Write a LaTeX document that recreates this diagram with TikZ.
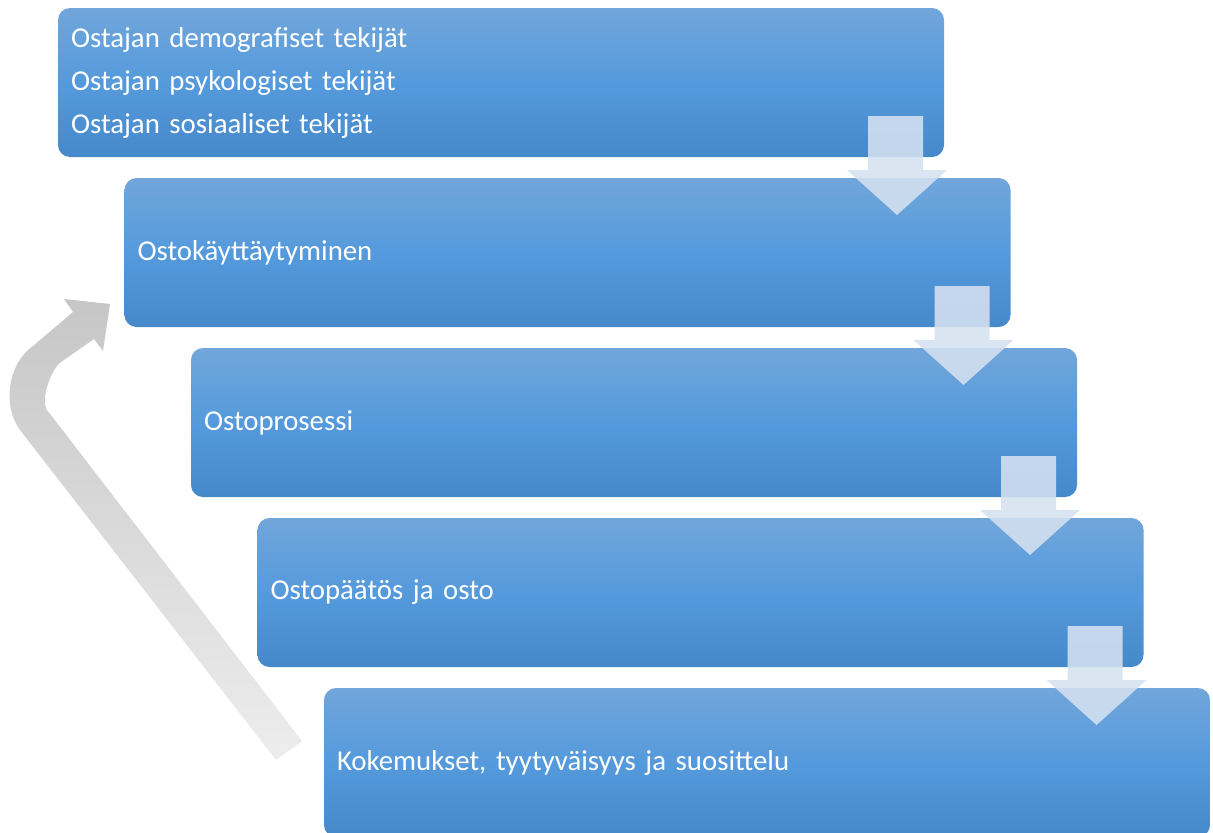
\documentclass[tikz,border=0pt]{standalone}
\usepackage{fontspec}
\setmainfont{Carlito}
\definecolor{boxtop}{RGB}{113,166,219}
\definecolor{boxmid}{RGB}{85,154,220}
\definecolor{boxbot}{RGB}{70,137,202}
\definecolor{arrowfill}{RGB}{213,225,240}
\definecolor{loopdark}{RGB}{198,198,198}
\definecolor{looplight}{RGB}{237,237,237}
\pgfdeclareverticalshading{boxshade}{100bp}{color(0bp)=(boxbot); color(25bp)=(boxbot); color(50bp)=(boxmid); color(75bp)=(boxtop); color(100bp)=(boxtop)}
\tikzset{every picture/.style={line width=0.75pt}}

\begin{document}
\begin{tikzpicture}[x=0.75pt,y=0.75pt,yscale=-1,xscale=1,
  stepbox/.style={rectangle, rounded corners=9pt, shading=boxshade, draw=none,
    minimum width=664.5pt, minimum height=111.75pt, text width=645pt, inner xsep=9.75pt,
    align=left, text=white, font=\fontsize{21.6}{32.25}\selectfont},
  downarrow/.style={fill=arrowfill, fill opacity=0.88, draw=none}]
\clip (0,0) rectangle (1213,832);

%Rounded Rect [id:b1]
\node [stepbox] (demog) at (501,82.5) {Ostajan demografiset tekijät\\Ostajan psykologiset tekijät\\Ostajan sosiaaliset tekijät};
%Rounded Rect [id:b2]
\node [stepbox] (kayt) at (567.5,252.5) {Ostokäyttäytyminen};
%Rounded Rect [id:b3]
\node [stepbox] (prosessi) at (634,422.5) {Ostoprosessi};
%Rounded Rect [id:b4]
\node [stepbox] (paatos) at (700.5,592.5) {Ostopäätös ja osto};
%Rounded Rect [id:b5]
\node [stepbox] (kokemus) at (767,762.5) {Kokemukset, tyytyväisyys ja suosittelu};

%Down Arrows
\foreach \k in {0,1,2,3}{
  \begin{scope}[shift={(66.5*\k,170*\k)}]
  \fill [downarrow] (868,116) -- (923,116) -- (923,170) -- (947,170) -- (897,215) -- (847,170) -- (868,170) -- cycle ;
  \end{scope}
}

%Curved Arrow [id:loop]
\shade [top color=loopdark, bottom color=looplight] (276,760) -- (20,430) .. controls (2,406) and (8,363) .. (33,346) -- (73,312) -- (64,299) -- (110,304) -- (103,351) -- (94,339) -- (61,362) .. controls (51,369) and (40,400) .. (47,410) -- (302,741) -- cycle ;
\end{tikzpicture}
\end{document}
